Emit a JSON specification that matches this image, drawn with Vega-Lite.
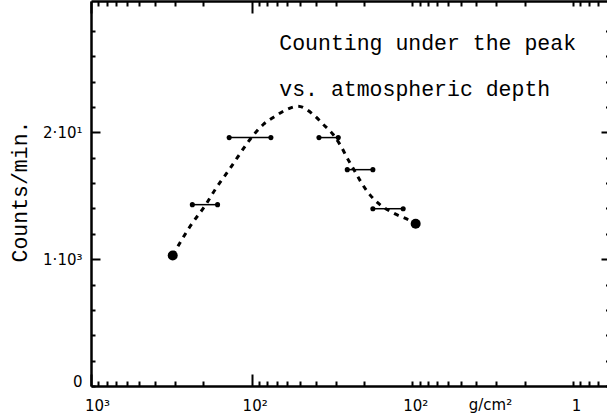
{
  "$schema": "https://vega.github.io/schema/vega-lite/v6.json",
  "width": 516,
  "height": 385,
  "autosize": {"type": "none"},
  "padding": {"left": 91, "top": 1, "right": 0, "bottom": 32},
  "background": "white",
  "config": {
    "view": {"stroke": null},
    "axis": {"domainColor": "black", "tickColor": "black", "labelColor": "black", "titleColor": "black", "grid": false}
  },
  "datasets": {
    "curve": [
      {"depth": 310, "counts": 1029},
      {"depth": 242, "counts": 1258},
      {"depth": 193, "counts": 1430},
      {"depth": 169, "counts": 1548},
      {"depth": 138, "counts": 1706},
      {"depth": 96.8, "counts": 1983},
      {"depth": 84.7, "counts": 2062},
      {"depth": 71.6, "counts": 2127},
      {"depth": 60.6, "counts": 2180},
      {"depth": 51.5, "counts": 2206},
      {"depth": 41.4, "counts": 2141},
      {"depth": 35.8, "counts": 2062},
      {"depth": 31.1, "counts": 1983},
      {"depth": 28.2, "counts": 1904},
      {"depth": 25.1, "counts": 1785},
      {"depth": 22.8, "counts": 1693},
      {"depth": 20.7, "counts": 1601},
      {"depth": 18.4, "counts": 1509},
      {"depth": 15.9, "counts": 1430},
      {"depth": 13.1, "counts": 1364},
      {"depth": 10.6, "counts": 1311},
      {"depth": 9.53, "counts": 1280}
    ],
    "bars": [
      {"lo": 163, "hi": 234, "counts": 1430},
      {"lo": 75.9, "hi": 138, "counts": 1959},
      {"lo": 28.9, "hi": 38.1, "counts": 1959},
      {"lo": 17.6, "hi": 25.4, "counts": 1706},
      {"lo": 11.4, "hi": 17.6, "counts": 1398}
    ],
    "ends": [
      {"depth": 310, "counts": 1029},
      {"depth": 9.53, "counts": 1280}
    ],
    "notes": [
      {"note": "Counting under the peak"}
    ],
    "notes2": [
      {"note": "vs. atmospheric depth"}
    ]
  },
  "layer": [
    {
      "data": {"name": "curve"},
      "mark": {"type": "line", "interpolate": "monotone", "strokeDash": [5, 5.5], "strokeWidth": 3, "color": "black"},
      "encoding": {
        "x": {
          "field": "depth", "type": "quantitative",
          "scale": {"type": "log", "domain": [0.614, 1000], "reverse": true, "nice": false},
          "axis": {
            "orient": "bottom",
            "values": [1000, 900, 800, 700, 600, 500, 400, 300, 200, 100, 90, 80, 70, 60, 50, 40, 30, 20, 10, 9, 8, 7, 6, 5, 4, 3, 2, 1, 0.9, 0.8, 0.7],
            "domainWidth": 2.5,
            "tickWidth": 2,
            "tickSize": {"condition": {"test": "datum.value == 100 || datum.value == 1000", "value": -12}, "value": -5},
            "labelExpr": "datum.value == 1000 ? '10³' : datum.value == 100 ? '10²' : datum.value == 10 ? '10²' : datum.value == 1 ? '1' : ''",
            "labelFont": "DejaVu Sans",
            "labelFontSize": 15,
            "labelPadding": {"condition": {"test": "datum.value == 100 || datum.value == 1000", "value": 24}, "value": 17},
            "labelOffset": {"condition": {"test": "datum.value == 1000", "value": 6}, "value": 3},
            "labelFlush": false,
            "labelOverlap": false,
            "title": "g/cm²",
            "titleFont": "DejaVu Sans",
            "titleFontSize": 15,
            "titleFontWeight": "normal",
            "titleX": 399,
            "titleY": 18,
            "titleAlign": "center",
            "titleBaseline": "middle"
          }
        },
        "y": {
          "field": "counts", "type": "quantitative",
          "scale": {"domain": [0, 3036], "nice": false},
          "axis": {
            "orient": "left",
            "values": [0, 200, 400, 600, 800, 1000, 1200, 1400, 1600, 1800, 2000, 2200, 2400, 2600, 2800],
            "domainWidth": 2.5,
            "tickWidth": 2,
            "tickSize": {"condition": {"test": "datum.value == 1000 || datum.value == 2000", "value": -9}, "value": -4},
            "labelExpr": "datum.value == 0 ? '0' : datum.value == 1000 ? '1·10³' : datum.value == 2000 ? '2·10¹' : ''",
            "labelFont": "DejaVu Sans",
            "labelFontSize": 15,
            "labelPadding": {"condition": {"test": "datum.value == 1000 || datum.value == 2000", "value": 18}, "value": 13},
            "labelOverlap": false,
            "labelFlush": false,
            "labelBaseline": {"condition": {"test": "datum.value == 0", "value": "alphabetic"}, "value": "middle"},
            "title": "Counts/min.",
            "titleFont": "Liberation Mono",
            "titleFontSize": 21.5,
            "titleFontWeight": "normal",
            "titleAngle": -90,
            "titleX": -71,
            "titleY": 190,
            "titleAlign": "center",
            "titleBaseline": "middle"
          }
        },
        "order": {"field": "depth", "sort": "descending"}
      }
    },
    {
      "data": {"name": "bars"},
      "mark": {"type": "rule", "strokeWidth": 1.5, "color": "black"},
      "encoding": {
        "x": {
          "field": "lo", "type": "quantitative",
          "axis": {
            "orient": "top",
            "values": [1000, 900, 800, 700, 600, 500, 400, 300, 200, 100, 90, 80, 70, 60, 50, 40, 30, 20, 10, 9, 8, 7, 6, 5, 4, 3, 2, 1, 0.9, 0.8, 0.7],
            "domainWidth": 2.5,
            "tickWidth": 2,
            "tickSize": {"condition": {"test": "datum.value == 100 || datum.value == 1000", "value": -12}, "value": -5},
            "labels": false,
            "title": null
          }
        },
        "x2": {"field": "hi"},
        "y": {
          "field": "counts", "type": "quantitative",
          "axis": {
            "orient": "right",
            "values": [0, 200, 400, 600, 800, 1000, 1200, 1400, 1600, 1800, 2000, 2200, 2400, 2600, 2800],
            "domain": false,
            "tickWidth": 2,
            "tickSize": {"condition": {"test": "datum.value == 1000 || datum.value == 2000", "value": -6}, "value": -1.5},
            "labels": false,
            "title": null
          }
        }
      }
    },
    {
      "data": {"name": "bars"},
      "mark": {"type": "point", "filled": true, "size": 26, "color": "black", "opacity": 1},
      "encoding": {
        "x": {"field": "lo", "type": "quantitative", "axis": null},
        "y": {"field": "counts", "type": "quantitative", "axis": null}
      }
    },
    {
      "data": {"name": "bars"},
      "mark": {"type": "point", "filled": true, "size": 26, "color": "black", "opacity": 1},
      "encoding": {
        "x": {"field": "hi", "type": "quantitative", "axis": null},
        "y": {"field": "counts", "type": "quantitative", "axis": null}
      }
    },
    {
      "data": {"name": "ends"},
      "mark": {"type": "point", "filled": true, "size": 100, "color": "black", "opacity": 1},
      "encoding": {
        "x": {"field": "depth", "type": "quantitative", "axis": null},
        "y": {"field": "counts", "type": "quantitative", "axis": null}
      }
    },
    {
      "data": {"name": "notes"},
      "mark": {"type": "text", "align": "left", "baseline": "alphabetic", "font": "Liberation Mono", "fontSize": 21.5, "color": "black"},
      "encoding": {
        "x": {"datum": 67.3, "type": "quantitative", "axis": null},
        "y": {"datum": 2650, "type": "quantitative", "axis": null},
        "text": {"field": "note"}
      }
    },
    {
      "data": {"name": "notes2"},
      "mark": {"type": "text", "align": "left", "baseline": "alphabetic", "font": "Liberation Mono", "fontSize": 21.5, "color": "black"},
      "encoding": {
        "x": {"datum": 67.3, "type": "quantitative", "axis": null},
        "y": {"datum": 2283, "type": "quantitative", "axis": null},
        "text": {"field": "note"}
      }
    }
  ],
  "resolve": {"axis": {"x": "independent", "y": "independent"}}
}
